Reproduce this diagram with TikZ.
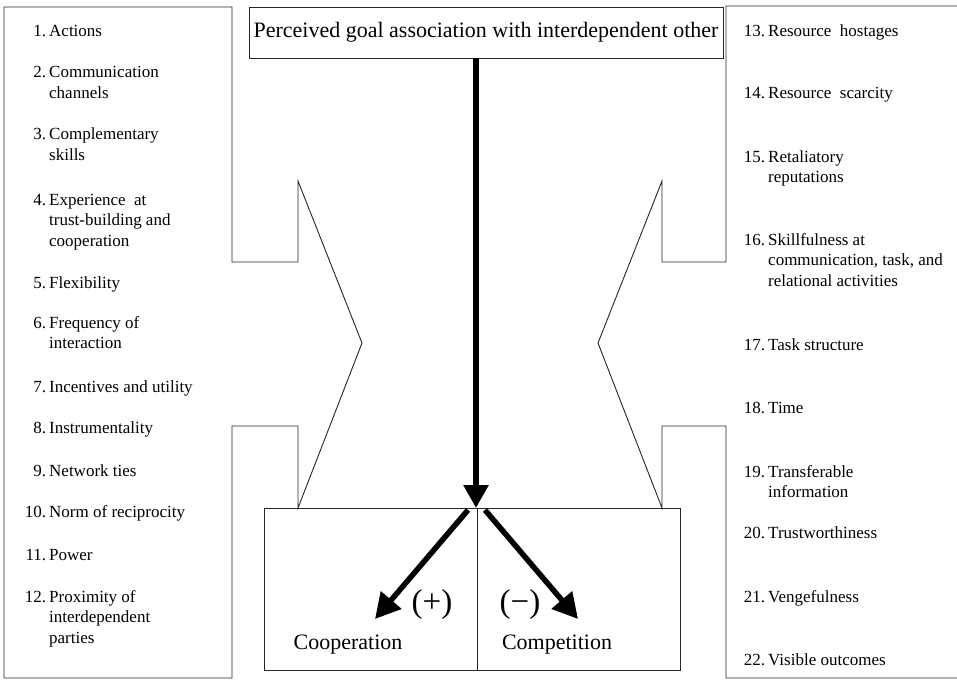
\documentclass[tikz,border=0pt]{standalone}
\usepackage{fontspec}
\setmainfont{Liberation Serif}
\usetikzlibrary{arrows.meta}

% number column of the factor lists
\newcommand\fnum[1]{\makebox[22pt][r]{#1}}

\tikzset{
  frame/.style={draw=black!85, line width=0.9pt},
  factor/.style={anchor=base west, inner sep=0pt,
    font=\fontsize{17}{20.5}\selectfont},
  outcome/.style={frame, inner sep=0pt},
  bigarrow/.style={line width=6.5pt,
    -{Triangle[length=23pt, width=24pt]}},
  splitarrow/.style={line width=5.5pt,
    -{Triangle[length=25pt, width=26pt]}},
  outlabel/.style={font=\fontsize{22}{24}\selectfont, inner sep=0pt},
  signlabel/.style={font=\fontsize{33}{35}\selectfont, inner sep=0pt},
}

\begin{document}
\begin{tikzpicture}[x=1pt, y=-1pt]
\useasboundingbox (0,0) rectangle (957,679);

% left frame with the inward chevron
\draw[frame] (4,7) -- (232,7) -- (232,262) -- (298,262) -- (298,181)
  -- (362,343) -- (298,508) -- (298,426) -- (232,426) -- (232,678)
  -- (4,678) -- cycle;

% right frame with the inward chevron (open on the right)
\draw[frame] (962,6) -- (726,6) -- (726,262) -- (662,262) -- (662,181)
  -- (598,343) -- (662,508) -- (662,426) -- (726,426) -- (726,678)
  -- (962,678);

% goal box
\node[frame, minimum width=474pt, minimum height=51pt, inner sep=0pt,
  font=\fontsize{22}{24}\selectfont] (title) at (486,32.5)
  {Perceived goal association with interdependent other};

% outcome boxes
\node[outcome, minimum width=213pt, minimum height=162pt] (coopbox) at (370.5,589) {};
\node[outcome, minimum width=203pt, minimum height=162pt] (compbox) at (578.5,589) {};

\node[outlabel] (coop) at (348,645) {Cooperation};
\node[outlabel] (comp) at (557,645) {Competition};
\node[signlabel] (plus) at (432,605) {(+)};
\node[signlabel] (minus) at (520,605) {(−)};

% arrows
\coordinate (split) at (476,508);
\coordinate (cooptip) at (375,619);
\coordinate (comptip) at (578,619);
\draw[bigarrow] (title.south -| split) -- (split);
\draw[splitarrow] (468,510) -- (cooptip);
\draw[splitarrow] (485,510) -- (comptip);

% left list of factors
\node[factor] (f1)  at (24,37)  {\begin{tabular}[t]{@{}l@{\hspace{3pt}}l@{}}\fnum{1.} & Actions\end{tabular}};
\node[factor] (f2)  at (24,78)  {\begin{tabular}[t]{@{}l@{\hspace{3pt}}l@{}}\fnum{2.} & Communication\\ & channels\end{tabular}};
\node[factor] (f3)  at (24,140) {\begin{tabular}[t]{@{}l@{\hspace{3pt}}l@{}}\fnum{3.} & Complementary\\ & skills\end{tabular}};
\node[factor] (f4)  at (24,205) {\begin{tabular}[t]{@{}l@{\hspace{3pt}}l@{}}\fnum{4.} & Experience\ \ at\\ & trust-building and\\ & cooperation\end{tabular}};
\node[factor] (f5)  at (24,288) {\begin{tabular}[t]{@{}l@{\hspace{3pt}}l@{}}\fnum{5.} & Flexibility\end{tabular}};
\node[factor] (f6)  at (24,328) {\begin{tabular}[t]{@{}l@{\hspace{3pt}}l@{}}\fnum{6.} & Frequency of\\ & interaction\end{tabular}};
\node[factor] (f7)  at (24,392) {\begin{tabular}[t]{@{}l@{\hspace{3pt}}l@{}}\fnum{7.} & Incentives and utility\end{tabular}};
\node[factor] (f8)  at (24,433) {\begin{tabular}[t]{@{}l@{\hspace{3pt}}l@{}}\fnum{8.} & Instrumentality\end{tabular}};
\node[factor] (f9)  at (24,476) {\begin{tabular}[t]{@{}l@{\hspace{3pt}}l@{}}\fnum{9.} & Network ties\end{tabular}};
\node[factor] (f10) at (24,517) {\begin{tabular}[t]{@{}l@{\hspace{3pt}}l@{}}\fnum{10.} & Norm of reciprocity\end{tabular}};
\node[factor] (f11) at (24,560) {\begin{tabular}[t]{@{}l@{\hspace{3pt}}l@{}}\fnum{11.} & Power\end{tabular}};
\node[factor] (f12) at (24,602) {\begin{tabular}[t]{@{}l@{\hspace{3pt}}l@{}}\fnum{12.} & Proximity of\\ & interdependent\\ & parties\end{tabular}};

% right list of factors
\node[factor] (f13) at (743,37)  {\begin{tabular}[t]{@{}l@{\hspace{3pt}}l@{}}\fnum{13.} & Resource\ \ hostages\end{tabular}};
\node[factor] (f14) at (743,99)  {\begin{tabular}[t]{@{}l@{\hspace{3pt}}l@{}}\fnum{14.} & Resource\ \ scarcity\end{tabular}};
\node[factor] (f15) at (743,162) {\begin{tabular}[t]{@{}l@{\hspace{3pt}}l@{}}\fnum{15.} & Retaliatory\\ & reputations\end{tabular}};
\node[factor] (f16) at (743,245) {\begin{tabular}[t]{@{}l@{\hspace{3pt}}l@{}}\fnum{16.} & Skillfulness at\\ & communication, task, and\\ & relational activities\end{tabular}};
\node[factor] (f17) at (743,350) {\begin{tabular}[t]{@{}l@{\hspace{3pt}}l@{}}\fnum{17.} & Task structure\end{tabular}};
\node[factor] (f18) at (743,413) {\begin{tabular}[t]{@{}l@{\hspace{3pt}}l@{}}\fnum{18.} & Time\end{tabular}};
\node[factor] (f19) at (743,477) {\begin{tabular}[t]{@{}l@{\hspace{3pt}}l@{}}\fnum{19.} & Transferable\\ & information\end{tabular}};
\node[factor] (f20) at (743,538) {\begin{tabular}[t]{@{}l@{\hspace{3pt}}l@{}}\fnum{20.} & Trustworthiness\end{tabular}};
\node[factor] (f21) at (743,602) {\begin{tabular}[t]{@{}l@{\hspace{3pt}}l@{}}\fnum{21.} & Vengefulness\end{tabular}};
\node[factor] (f22) at (743,665) {\begin{tabular}[t]{@{}l@{\hspace{3pt}}l@{}}\fnum{22.} & Visible outcomes\end{tabular}};
\end{tikzpicture}
\end{document}
